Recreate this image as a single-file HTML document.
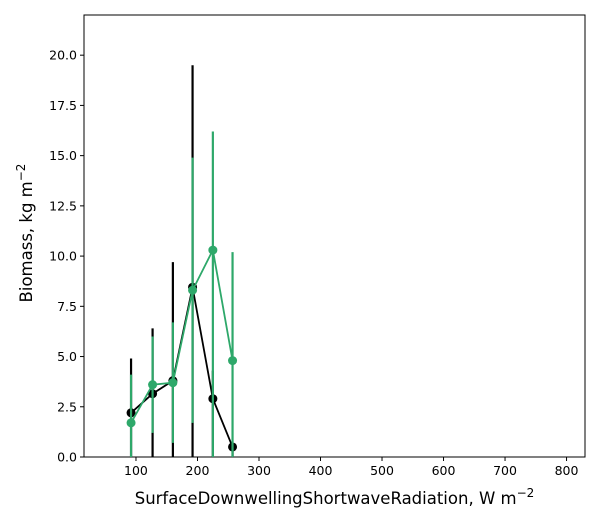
<!DOCTYPE html>
<html><head><meta charset="utf-8"><style>
body{margin:0;background:#fff;}
svg{display:block;font-family:"DejaVu Sans","Liberation Sans",sans-serif;}
</style></head><body>
<svg id="chart" width="600" height="525" viewBox="0 0 600 525"></svg>
<script>
const xs = [92, 127, 160, 192, 225, 257];
const blackMean = [2.2, 3.15, 3.8, 8.45, 2.9, 0.5];
const blackLow = [0, 0, 0, 0, 0, 0];
const blackHigh = [4.9, 6.4, 9.7, 19.5, 4.3, 0.5];
const greenMean = [1.7, 3.6, 3.7, 8.3, 10.3, 4.8];
const greenLow = [0, 1.2, 0.7, 1.7, 0, 0];
const greenHigh = [4.1, 6.0, 6.7, 14.9, 16.2, 10.2];
const xTicks = [100, 200, 300, 400, 500, 600, 700, 800];
const yTicks = [0, 2.5, 5, 7.5, 10, 12.5, 15, 17.5, 20];

const svg = document.getElementById('chart');
const NS = 'http://www.w3.org/2000/svg';
const L=84,R=585,T=15,B=457;
const xmin=15.5,xmax=830,ymin=0,ymax=22;
const X=v=>L+(v-xmin)/(xmax-xmin)*(R-L);
const Y=v=>B-(v-ymin)/(ymax-ymin)*(B-T);
function mk(tag,attrs,parent){const e=document.createElementNS(NS,tag);for(const k in attrs)e.setAttribute(k,attrs[k]);(parent||svg).appendChild(e);return e;}

const frame=mk('rect',{x:L,y:T,width:R-L,height:B-T,fill:'none',stroke:'#000','stroke-width':1});



xTicks.forEach(t=>{
  const l=mk('line',{x1:X(t),x2:X(t),y1:B,y2:B+4,stroke:'#000'});
  
  
  const tx=mk('text',{x:X(t),y:B+18,'text-anchor':'middle','font-size':12.5});
  tx.textContent=t;
  
  
});
yTicks.forEach(t=>{
  const l=mk('line',{x1:L-4,x2:L,y1:Y(t),y2:Y(t),stroke:'#000'});
  
  
  const tx=mk('text',{x:L-7,y:Y(t)+4.5,'text-anchor':'end','font-size':12.5});
  tx.textContent=t.toFixed(1);
  
  
});

function series(mean,lo,hi,color,name){
  const g=mk('g',{});
  
  
  xs.forEach((x,i)=>{
    const e=mk('line',{x1:X(x),x2:X(x),y1:Y(lo[i]),y2:Y(hi[i]),stroke:color,'stroke-width':2.2},g);
    
    
  });
  const p=mk('polyline',{points:xs.map((x,i)=>X(x)+','+Y(mean[i])).join(' '),fill:'none',stroke:color,'stroke-width':1.8},g);
  
  
  xs.forEach((x,i)=>{
    const c=mk('circle',{cx:X(x),cy:Y(mean[i]),r:4.5,fill:color},g);
    
    
  });
}
series(blackMean,blackLow,blackHigh,'#000','black');
series(greenMean,greenLow,greenHigh,'#2ea86a','green');

const xt=mk('text',{x:(L+R)/2,y:504,'text-anchor':'middle','font-size':16.5});
xt.innerHTML='SurfaceDownwellingShortwaveRadiation,  W m<tspan dy="-7" font-size="12">−2</tspan>';


const yt=mk('text',{x:0,y:0,'text-anchor':'middle','font-size':16.5,transform:`translate(32,${(T+B)/2-3}) rotate(-90)`});
yt.innerHTML='Biomass,  kg m<tspan dy="-7" font-size="12">−2</tspan>';


</script>
</body></html>
